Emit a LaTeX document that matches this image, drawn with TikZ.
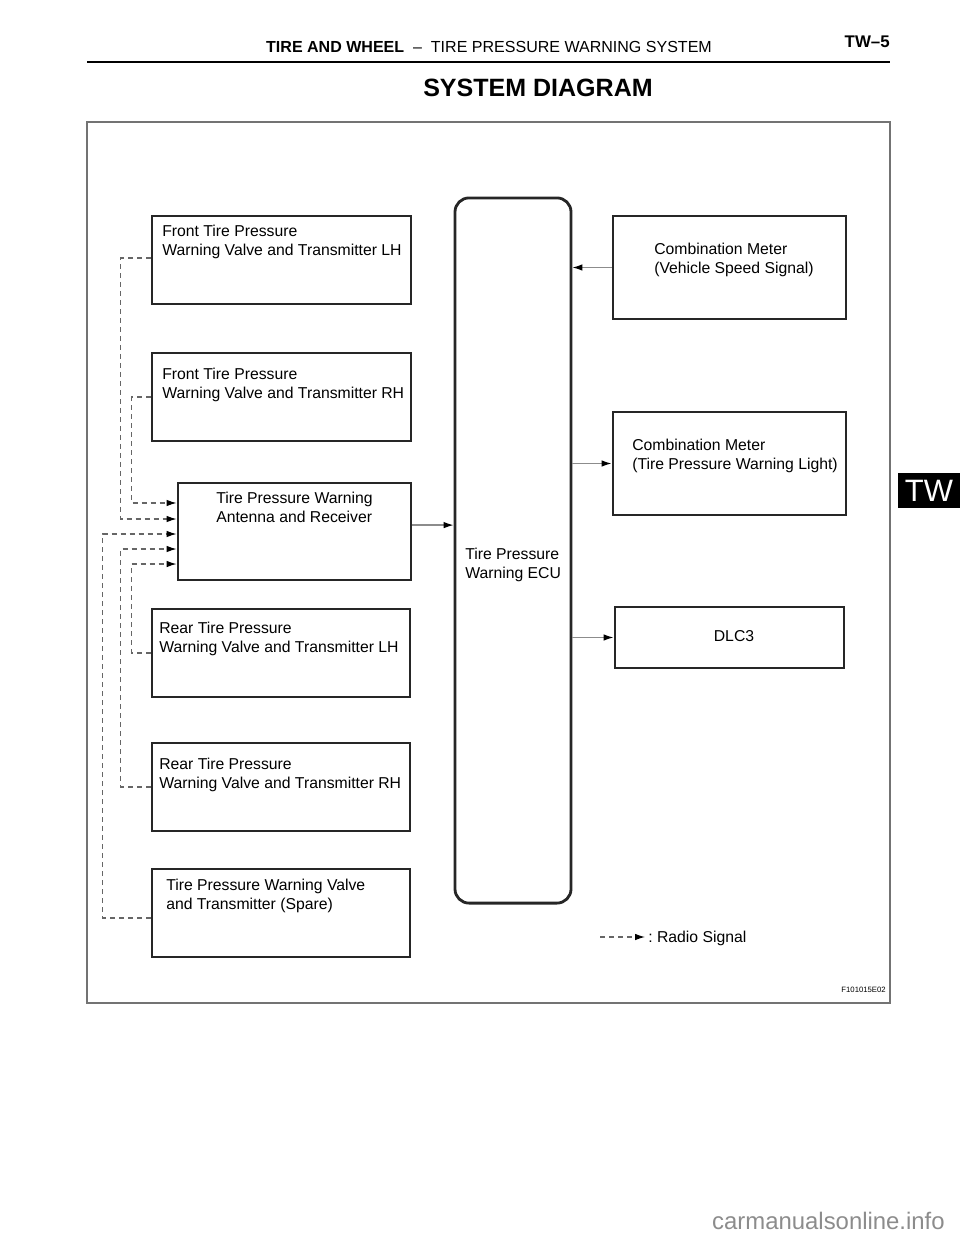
\documentclass[tikz,border=0pt]{standalone}
\usepackage{fontspec}
\setmainfont{Liberation Sans}
\usetikzlibrary{arrows.meta,positioning}

\begin{document}
\begin{tikzpicture}[x=0.025cm, y=-0.025cm,
    box/.style={draw=black!85, line width=2pt, inner sep=0pt},
    lbl/.style={font=\fontsize{11.2pt}{13.5pt}\selectfont, align=left, anchor=west, inner sep=0pt},
    wire/.style={draw=black!45, line width=0.9pt, -{Latex[length=7pt, width=4.6pt, black]}},
    radio/.style={wire, draw=black!60, line width=0.8pt, dash pattern=on 3.6pt off 2.8pt}
]
\useasboundingbox (0,0) rectangle (960,1242);

%% Page header
\node[font=\fontsize{11.4pt}{13pt}\selectfont, inner sep=0pt] (head) at (489,47)
    {\textbf{TIRE AND WHEEL}\ \ –\ \ TIRE PRESSURE WARNING SYSTEM};
\node[font=\bfseries\fontsize{12pt}{14pt}\selectfont, anchor=east, inner sep=0pt] (page) at (890,42) {TW–5};
\draw[line width=2pt] (87,62) -- (890,62);
\node[font=\bfseries\fontsize{17.8pt}{20pt}\selectfont, inner sep=0pt] (title) at (538,88) {SYSTEM DIAGRAM};

%% Side tab
\node[fill=black, text=white, font=\fontsize{22pt}{24pt}\selectfont, minimum width=1.55cm,
      minimum height=0.875cm, inner sep=0pt] (tab) at (929,490.5) {TW};

%% Frame
\draw[black!55, line width=0.8pt] (87,122) rectangle (890,1003);

%% Transmitters and receiver (left column)
\node[box, minimum width=6.475cm, minimum height=2.2cm] (fl) at (281.5,260) {};
\node[lbl] (fltxt) at (162,241.5) {Front Tire Pressure\\Warning Valve and Transmitter LH};
\node[box, minimum width=6.475cm, minimum height=2.2cm] (fr) at (281.5,397) {};
\node[lbl] (frtxt) at (162,385) {Front Tire Pressure\\Warning Valve and Transmitter RH};
\node[box, minimum width=5.825cm, minimum height=2.425cm] (ant) at (294.5,531.5) {};
\node[lbl] (anttxt) at (216,507.5) {Tire Pressure Warning\\Antenna and Receiver};
\node[box, minimum width=6.45cm, minimum height=2.2cm] (rl) at (281,653) {};
\node[lbl] (rltxt) at (159,638.5) {Rear Tire Pressure\\Warning Valve and Transmitter LH};
\node[box, minimum width=6.45cm, minimum height=2.2cm] (rr) at (281,787) {};
\node[lbl] (rrtxt) at (159,774.5) {Rear Tire Pressure\\Warning Valve and Transmitter RH};
\node[box, minimum width=6.45cm, minimum height=2.2cm] (spare) at (281,913) {};
\node[lbl] (sparetxt) at (166,896) {Tire Pressure Warning Valve\\and Transmitter (Spare)};

%% ECU
\node[box, rounded corners=10pt, minimum width=2.9cm, minimum height=17.625cm] (ecu) at (513,550.5) {};
\node[lbl] (ecutxt) at (465,564.5) {Tire Pressure\\Warning ECU};

%% Right column
\node[box, minimum width=5.825cm, minimum height=2.575cm] (cms) at (729.5,267.5) {};
\node[lbl] (cmstxt) at (654,260) {Combination Meter\\(Vehicle Speed Signal)};
\node[box, minimum width=5.825cm, minimum height=2.575cm] (cml) at (729.5,463.5) {};
\node[lbl] (cmltxt) at (632,455.5) {Combination Meter\\(Tire Pressure Warning Light)};
\node[box, minimum width=5.725cm, minimum height=1.525cm] (dlc) at (729.5,637.5) {};
\node[lbl, anchor=center] (dlctxt) at (734,636) {DLC3};

%% Receiver inputs
\coordinate (in1) at ([yshift=0.7125cm]ant.west);
\coordinate (in2) at ([yshift=0.3125cm]ant.west);
\coordinate (in3) at ([yshift=-0.0625cm]ant.west);
\coordinate (in4) at ([yshift=-0.4375cm]ant.west);
\coordinate (in5) at ([yshift=-0.8125cm]ant.west);

%% Radio signals
\draw[radio] (fr.west) -- ++(-19,0) |- (in1);
\draw[radio] ([yshift=0.05cm]fl.west) -- ++(-30,0) |- (in2);
\draw[radio] ([yshift=-0.125cm]spare.west) -- ++(-48,0) |- (in3);
\draw[radio] (rr.west) -- ++(-30,0) |- (in4);
\draw[radio] (rl.west) -- ++(-19,0) |- (in5);

%% Wired signals
\draw[wire] ([yshift=0.16cm]ant.east) -- ([yshift=0.16cm]ant.east -| ecu.west);
\draw[wire] (cms.west) -- (cms.west -| ecu.east);
\draw[wire] (cml.west -| ecu.east) -- (cml.west);
\draw[wire] (dlc.west -| ecu.east) -- (dlc.west);

%% Legend
\coordinate (lgA) at (600,937);
\coordinate (lgB) at (645,937);
\draw[radio] (lgA) -- (lgB);
\node[lbl] (lgtxt) at (648,938) {:\ Radio Signal};

%% Figure code and watermark
\node[font=\fontsize{5.5pt}{6pt}\selectfont, anchor=east, inner sep=0pt] (fig) at (886,990) {F101015E02};
\node[text=black!45, font=\fontsize{17pt}{19pt}\selectfont, anchor=east, inner sep=0pt] (wm) at (945,1221)
    {carmanualsonline.info};

\end{tikzpicture}
\end{document}
